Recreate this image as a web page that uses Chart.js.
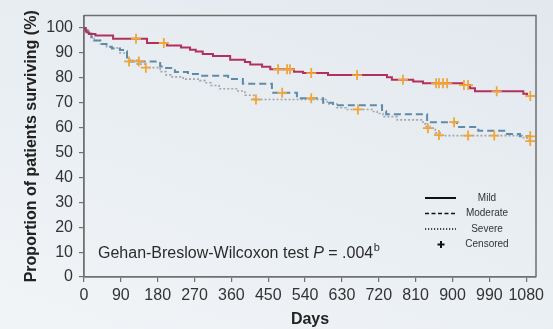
<!DOCTYPE html>
<html>
<head>
<meta charset="utf-8">
<script src="https://cdn.jsdelivr.net/npm/chart.js@4/dist/chart.umd.min.js"></script>
<style>
  html, body { margin: 0; padding: 0; }
  body { width: 553px; height: 329px; background: linear-gradient(200deg, #e2e8ee 0%, #eaeff3 55%, #f1f4f7 100%); overflow: hidden; }
  canvas { display: block; }
</style>
</head>
<body>
<canvas id="c" width="553" height="329"></canvas>
<script>
// ---- Data ----
const xTicks = [0, 90, 180, 270, 360, 450, 540, 630, 720, 810, 900, 990, 1080];
const yTicks = [0, 10, 20, 30, 40, 50, 60, 70, 80, 90, 100];

const mildDays = [0, 3, 6, 12, 28, 71, 154, 203, 237, 259, 273, 290, 315, 357, 393, 406, 435, 455, 513, 535, 596, 740, 752, 804, 828, 925, 943, 955, 1073, 1082, 1090];
const mildSurv = [100, 99, 98.3, 97.6, 97.0, 95.7, 94.0, 93.0, 92.2, 91.3, 90.6, 89.6, 88.8, 87.3, 86.4, 85.4, 84.5, 83.4, 82.4, 81.9, 81.1, 80.2, 79.2, 78.5, 77.8, 77.1, 75.8, 74.6, 73.6, 72.7, 72.7];

const moderateDays = [0, 5, 10, 18, 25, 40, 55, 68, 88, 100, 105, 186, 198, 222, 254, 283, 352, 388, 459, 520, 584, 608, 728, 738, 838, 911, 963, 1029, 1065, 1090];
const moderateSurv = [100, 99, 97.8, 96.3, 95, 93.6, 92.5, 91.8, 91.2, 90.7, 86.6, 84.6, 84.0, 82.3, 81.5, 80.8, 79.5, 77.6, 74.0, 71.8, 70.0, 69.0, 66.6, 65.4, 62.2, 60.3, 58.7, 57.4, 56.5, 56.5];

const severeDays = [0, 5, 10, 18, 25, 40, 55, 64, 88, 105, 112, 130, 151, 186, 200, 212, 242, 283, 296, 310, 330, 376, 393, 415, 594, 618, 640, 704, 716, 730, 765, 828, 835, 845, 858, 870, 1058, 1070, 1082, 1090];
const severeSurv = [100, 99, 97.8, 96.3, 95, 93.6, 92.5, 92, 90, 87.4, 87, 85.5, 84.1, 82.5, 81.2, 80.4, 79.5, 78.9, 78.0, 76.9, 75.6, 74.7, 73.0, 71.3, 69.5, 68.0, 67.3, 66.5, 65.7, 64.4, 63.1, 61.5, 60.5, 59.8, 57.9, 56.8, 56.8, 56.0, 55.2, 54.6];

const mildCensDays = [127, 195, 474, 496, 503, 555, 667, 779, 860, 867, 877, 887, 928, 938, 1008, 1090];
const mildCensSurv = [95.7, 94.0, 83.4, 83.4, 83.4, 81.9, 81.1, 79.2, 77.8, 77.8, 77.8, 77.8, 77.1, 77.1, 74.6, 72.7];
const moderateCensDays = [110, 134, 484, 555, 904, 1090];
const moderateCensSurv = [86.6, 86.6, 74.0, 71.8, 62.2, 56.5];
const severeCensDays = [151, 420, 669, 840, 867, 938, 1002, 1090];
const severeCensSurv = [84.1, 71.3, 67.3, 59.8, 57.0, 56.8, 56.8, 54.6];

const legendLabels = ['Mild', 'Moderate', 'Severe', 'Censored'];
const annotationText = ['Gehan-Breslow-Wilcoxon test ', 'P', ' = .004', 'b'];

// ---- Build ----
const pts = (xs, ys) => xs.map((x, i) => ({x: x, y: ys[i]}));
const FONT = "'Liberation Sans', Arial, Helvetica, sans-serif";
const CENS = '#f0a53a';

const censorStyle = {
  type: 'scatter', showLine: false, order: 0,
  pointStyle: 'cross', pointRadius: 5, pointHoverRadius: 5,
  borderColor: CENS, backgroundColor: CENS, borderWidth: 1.8
};

const overlay = {
  id: 'overlay',
  afterDraw(chart) {
    const {ctx, chartArea: a} = chart;
    ctx.save();
    // frame top & right
    ctx.strokeStyle = '#6f6f6f';
    ctx.lineWidth = 1.5;
    ctx.beginPath();
    ctx.moveTo(a.left, a.top);
    ctx.lineTo(a.right, a.top);
    ctx.lineTo(a.right, a.bottom);
    ctx.stroke();

    // annotation
    ctx.fillStyle = '#2b2b2b';
    ctx.textBaseline = 'alphabetic';
    ctx.textAlign = 'left';
    let x = 98, y = 257.5;
    ctx.font = '16px ' + FONT;
    ctx.fillText(annotationText[0], x, y); x += ctx.measureText(annotationText[0]).width;
    ctx.font = 'italic 16px ' + FONT;
    ctx.fillText(annotationText[1], x, y); x += ctx.measureText(annotationText[1]).width;
    ctx.font = '16px ' + FONT;
    ctx.fillText(annotationText[2], x, y); x += ctx.measureText(annotationText[2]).width + 0.5;
    ctx.font = '11px ' + FONT;
    ctx.fillText(annotationText[3], x, y - 6.5);

    // legend
    const ys = [198, 213.5, 229, 244.5];
    ctx.strokeStyle = '#111';
    ctx.lineWidth = 2;
    ctx.setLineDash([]);
    ctx.beginPath(); ctx.moveTo(425, ys[0]); ctx.lineTo(456, ys[0]); ctx.stroke();
    ctx.lineWidth = 1.6;
    ctx.setLineDash([4, 2.5]);
    ctx.beginPath(); ctx.moveTo(425, ys[1]); ctx.lineTo(456, ys[1]); ctx.stroke();
    ctx.setLineDash([1.2, 1.8]);
    ctx.lineWidth = 1.4;
    ctx.beginPath(); ctx.moveTo(425, ys[2]); ctx.lineTo(456, ys[2]); ctx.stroke();
    ctx.setLineDash([]);
    ctx.lineWidth = 2;
    ctx.beginPath();
    ctx.moveTo(437.5, ys[3]); ctx.lineTo(444.5, ys[3]);
    ctx.moveTo(441, ys[3] - 3.5); ctx.lineTo(441, ys[3] + 3.5);
    ctx.stroke();
    ctx.fillStyle = '#333';
    ctx.font = '10px ' + FONT;
    ctx.textAlign = 'center';
    ctx.textBaseline = 'middle';
    legendLabels.forEach((t, i) => ctx.fillText(t, 487, ys[i]));
    ctx.restore();
  }
};

new Chart(document.getElementById('c'), {
  type: 'line',
  data: {
    datasets: [
      Object.assign({label: 'Mild censored', data: pts(mildCensDays, mildCensSurv)}, censorStyle),
      Object.assign({label: 'Moderate censored', data: pts(moderateCensDays, moderateCensSurv)}, censorStyle),
      Object.assign({label: 'Severe censored', data: pts(severeCensDays, severeCensSurv)}, censorStyle),
      {label: 'Mild', data: pts(mildDays, mildSurv), stepped: 'before', borderColor: '#b3305c', borderWidth: 2, pointRadius: 0, fill: false, order: 1},
      {label: 'Moderate', data: pts(moderateDays, moderateSurv), stepped: 'before', borderColor: '#5f8aaa', borderWidth: 2, borderDash: [7, 4], pointRadius: 0, fill: false, order: 1},
      {label: 'Severe', data: pts(severeDays, severeSurv), stepped: 'before', borderColor: '#a3a6ad', borderWidth: 1.6, borderDash: [2, 2], pointRadius: 0, fill: false, order: 1}
    ]
  },
  options: {
    responsive: false,
    animation: false,
    events: [],
    layout: {padding: {top: 10, right: 17, left: 0, bottom: 0}},
    plugins: {legend: {display: false}, tooltip: {enabled: false}},
    scales: {
      x: {
        type: 'linear', min: 0, max: 1104,
        afterBuildTicks: s => { s.ticks = xTicks.map(v => ({value: v})); },
        afterFit: s => { s.height = 52; },
        grid: {display: true, drawOnChartArea: false, drawTicks: true, tickLength: 5, color: '#707070', lineWidth: 1.2},
        border: {display: true, color: '#707070', width: 1.8},
        ticks: {color: '#333', font: {family: FONT, size: 16}, padding: 4, maxRotation: 0, autoSkip: false, callback: v => String(v)},
        title: {display: true, text: 'Days', color: '#222', font: {family: FONT, size: 16, weight: 'bold'}, padding: {top: 0, bottom: 0}}
      },
      y: {
        type: 'linear', min: 0, max: 105,
        afterBuildTicks: s => { s.ticks = yTicks.map(v => ({value: v})); },
        afterFit: s => { s.width = 84; },
        grid: {display: true, drawOnChartArea: false, drawTicks: true, tickLength: 5, color: '#707070', lineWidth: 1.2},
        border: {display: true, color: '#707070', width: 1.8},
        ticks: {color: '#333', font: {family: FONT, size: 16}, padding: 6, autoSkip: false, callback: v => String(v)},
        title: {display: true, text: 'Proportion of patients surviving (%)', color: '#222', font: {family: FONT, size: 16, weight: 'bold'}, padding: {top: 22, bottom: 0}}
      }
    }
  },
  plugins: [overlay]
});
</script>
</body>
</html>
